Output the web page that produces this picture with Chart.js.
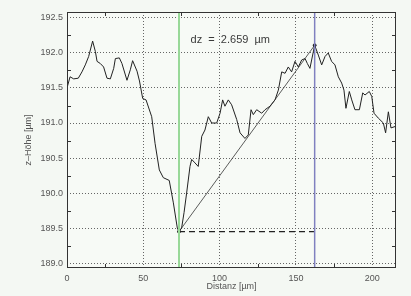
<!DOCTYPE html>
<html>
<head>
<meta charset="utf-8">
<script src="https://cdn.jsdelivr.net/npm/chart.js@4/dist/chart.umd.min.js"></script>
<style>
  html, body { margin: 0; padding: 0; background: #f4f8f3; }
  #wrap { width: 411px; height: 296px; }
</style>
</head>
<body>
<div id="wrap"><canvas id="profil"></canvas></div>
<script>
// profile: distance [um] and height [um]
var distanz = [0, 2.0, 4.4, 7.4, 9.8, 12.0, 14.2, 16.8, 18.6, 19.7, 21.8, 24.0, 26.2, 28.4, 30.6,
  31.7, 34.3, 36.0, 39.3, 41.5, 43.0, 45.9, 47.5, 49.6, 51.8, 55.5, 57.7, 60.5, 63.1, 67.0,
  69.7, 72.3, 73.4, 75.1, 76.7, 78.4, 80.6, 81.7, 83.9, 86.0, 88.3, 90.4, 92.6, 94.8, 98.1,
  100.3, 102.0, 103.5, 105.7, 107.9, 111.2, 113.4, 116.6, 118.8, 120.6, 122.1, 124.3, 127.6,
  129.8, 133.0, 136.3, 138.5, 140.7, 142.9, 145.0, 147.2, 149.4, 151.6, 153.8, 156.0, 157.5,
  159.2, 162.3, 164.7, 166.9, 169.1, 171.2, 173.4, 175.6, 177.8, 180.0, 181.5, 182.8, 185.0,
  186.6, 188.7, 191.6, 193.8, 195.3, 198.1, 199.7, 201.2, 204.0, 207.3, 208.8, 210.6, 212.3, 215.0];
var hoehe = [191.50, 191.66, 191.63, 191.64, 191.73, 191.83, 191.95, 192.17, 192.02, 191.88, 191.85, 191.80, 191.64, 191.63, 191.78,
  191.92, 191.93, 191.85, 191.61, 191.76, 191.89, 191.74, 191.60, 191.35, 191.33, 191.09, 190.71, 190.33, 190.22, 190.18,
  189.86, 189.50, 189.45, 189.50, 189.72, 190.00, 190.38, 190.48, 190.43, 190.38, 190.81, 190.90, 191.09, 191.00, 191.00,
  191.14, 191.33, 191.24, 191.33, 191.26, 191.05, 190.86, 190.78, 190.83, 191.19, 191.12, 191.19, 191.14,
  191.19, 191.24, 191.33, 191.47, 191.73, 191.71, 191.80, 191.73, 191.88, 191.80, 191.90, 191.92, 191.85,
  191.78, 192.11, 191.97, 191.83, 191.95, 192.00, 191.88, 191.83, 191.66, 191.57, 191.47, 191.21, 191.45,
  191.33, 191.19, 191.19, 191.43, 191.40, 191.45, 191.38, 191.14, 191.07, 191.00, 190.86, 191.16, 190.93, 190.95];

// cursor positions (green = minimum, blue = maximum)
var cursor = [73.4, 162.3];
var dzText = 'dz  =  2.659  \u00b5m';

var xTicks = [0, 50, 100, 150, 200];
var xMinor = [25, 75, 125, 175];
var yTicks = [189.0, 189.5, 190.0, 190.5, 191.0, 191.5, 192.0, 192.5];
var yMinor = [189.25, 189.75, 190.25, 190.75, 191.25, 191.75, 192.25];
var xRange = [0, 215.6];
var yRange = [188.93, 192.585];

var profil = distanz.map(function (d, i) { return { x: d, y: hoehe[i] }; });
var iA = distanz.indexOf(cursor[0]);
var iB = distanz.indexOf(cursor[1]);
var pA = { x: distanz[iA], y: hoehe[iA] };
var pB = { x: distanz[iB], y: hoehe[iB] };

var rahmen = {
  id: 'rahmen',
  beforeDraw: function (chart) {
    var a = chart.chartArea, ctx = chart.ctx;
    ctx.save();
    ctx.fillStyle = '#f7faf6';
    ctx.fillRect(a.left, a.top, a.right - a.left, a.bottom - a.top);
    ctx.restore();
  },
  afterDraw: function (chart) {
    var a = chart.chartArea, ctx = chart.ctx;
    var x = chart.scales.x, y = chart.scales.y;
    ctx.save();
    ctx.strokeStyle = '#333';
    ctx.lineWidth = 1;
    ctx.strokeRect(Math.round(a.left) + 0.5, Math.round(a.top) + 0.5,
      Math.round(a.right - a.left) - 1, Math.round(a.bottom - a.top) - 1);
    ctx.beginPath();
    xMinor.forEach(function (v) {
      var px = Math.round(x.getPixelForValue(v)) + 0.5;
      ctx.moveTo(px, a.top); ctx.lineTo(px, a.top + 4);
      ctx.moveTo(px, a.bottom); ctx.lineTo(px, a.bottom - 4);
    });
    yMinor.forEach(function (v) {
      var py = Math.round(y.getPixelForValue(v)) + 0.5;
      ctx.moveTo(a.left, py); ctx.lineTo(a.left + 4, py);
      ctx.moveTo(a.right, py); ctx.lineTo(a.right - 4, py);
    });
    ctx.stroke();
    ctx.fillStyle = '#3a3a3a';
    ctx.font = '11px "Liberation Sans", Arial, sans-serif';
    ctx.textBaseline = 'middle';
    ctx.fillText(dzText, x.getPixelForValue(81), y.getPixelForValue(192.185));
    ctx.restore();
  }
};

var font = { family: '"Liberation Sans", Arial, sans-serif', size: 9 };

new Chart(document.getElementById('profil'), {
  type: 'line',
  data: {
    datasets: [
      {
        data: [{ x: cursor[0], y: yRange[0] }, { x: cursor[0], y: yRange[1] }],
        borderColor: '#98d898', borderWidth: 2, pointRadius: 0
      },
      {
        data: [{ x: cursor[1], y: yRange[0] }, { x: cursor[1], y: yRange[1] }],
        borderColor: '#8080c0', borderWidth: 1.5, pointRadius: 0
      },
      {
        data: [pA, { x: pB.x, y: pA.y }],
        borderColor: '#222', borderWidth: 1.2, borderDash: [6, 4], pointRadius: 0
      },
      {
        data: [pA, pB],
        borderColor: '#333', borderWidth: 0.8, pointRadius: 1.5,
        pointBackgroundColor: '#111', pointBorderColor: '#111'
      },
      {
        data: profil,
        borderColor: '#222', borderWidth: 1, pointRadius: 0, tension: 0
      }
    ]
  },
  options: {
    responsive: true,
    maintainAspectRatio: false,
    animation: false,
    layout: { padding: { top: 12, right: 15, left: 0, bottom: 0 } },
    plugins: { legend: { display: false }, tooltip: { enabled: false } },
    scales: {
      x: {
        type: 'linear',
        min: xRange[0], max: xRange[1],
        afterFit: function (s) { s.height = 28; },
        afterBuildTicks: function (s) { s.ticks = xTicks.map(function (v) { return { value: v }; }); },
        ticks: { font: font, color: '#555', padding: 5, maxRotation: 0 },
        grid: { color: '#666', drawTicks: false },
        border: { display: false, dash: [1, 2] },
        title: { display: true, text: 'Distanz [\u00b5m]', font: font, color: '#555', padding: { top: 0, bottom: 4 } }
      },
      y: {
        type: 'linear',
        min: yRange[0], max: yRange[1],
        afterFit: function (s) { s.width = 67; },
        afterBuildTicks: function (s) { s.ticks = yTicks.map(function (v) { return { value: v }; }); },
        ticks: { font: font, color: '#555', padding: 4, callback: function (v) { return v.toFixed(1); } },
        grid: { color: '#666', drawTicks: false },
        border: { display: false, dash: [1, 2] },
        title: { display: true, text: 'z\u2013H\u00f6he [\u00b5m]', font: font, color: '#555', padding: { top: 23, bottom: 0 } }
      }
    }
  },
  plugins: [rahmen]
});
</script>
</body>
</html>
